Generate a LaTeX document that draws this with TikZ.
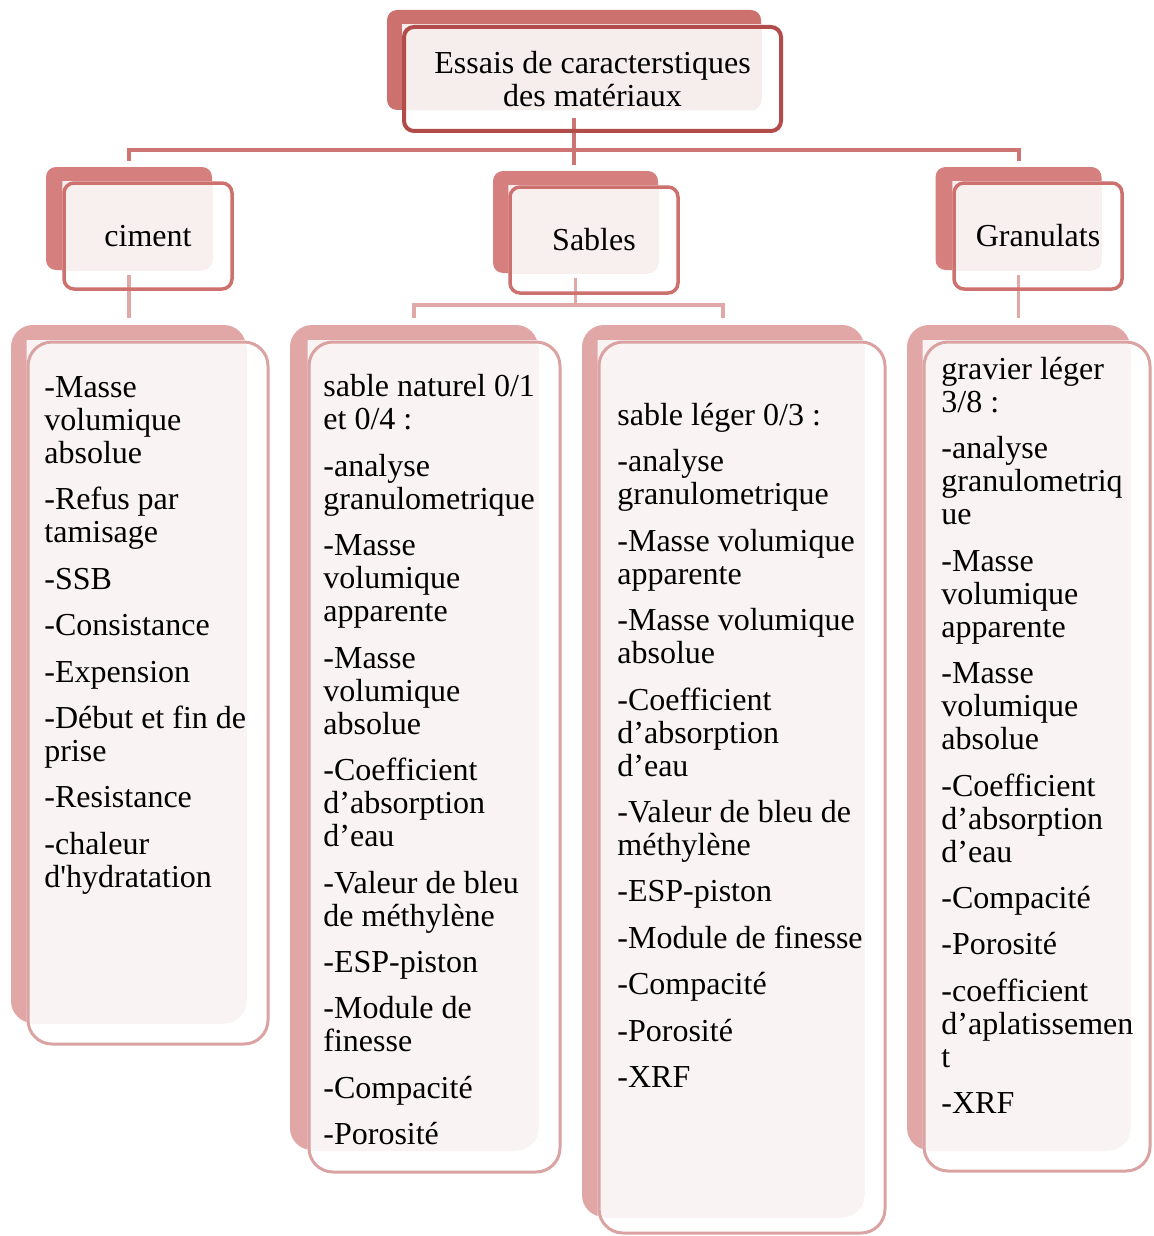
\documentclass[tikz,border=0pt]{standalone}
\usepackage{fontspec}
\setmainfont{Liberation Serif}
\usetikzlibrary{positioning}
\definecolor{topfill}{HTML}{CC716E}
\definecolor{topline}{HTML}{B24C4A}
\definecolor{toppale}{HTML}{F6EEED}
\definecolor{midfill}{HTML}{D5807E}
\definecolor{midline}{HTML}{CD716E}
\definecolor{midpale}{HTML}{F8EFEF}
\definecolor{lowfill}{HTML}{E0A7A6}
\definecolor{lowline}{HTML}{DBA2A2}
\definecolor{lowpale}{HTML}{FAF3F3}
\definecolor{topconn}{HTML}{CE7573}
\definecolor{lowconn}{HTML}{E0A9A8}
\pgfdeclarelayer{back}
\pgfsetlayers{back,main}

\begin{document}
\begin{tikzpicture}[
    x=0.5pt, y=-0.5pt,
    every node/.style={font=\fontsize{16}{16.5}\selectfont, inner sep=0pt},
    topbox/.style={draw=topline, line width=2pt, rounded corners=5pt, align=center, minimum width=188.5pt, minimum height=52pt},
    midbox/.style={draw=midline, line width=1.75pt, rounded corners=5pt, minimum width=84pt, minimum height=53pt},
    lowbox/.style={draw=lowline, line width=1.5pt, rounded corners=12pt},
    topshade/.style={fill=topfill, rounded corners=5pt, minimum width=187pt, minimum height=50pt},
    midshade/.style={fill=midfill, rounded corners=5pt, minimum width=83pt, minimum height=51.5pt},
    lowshade/.style={fill=lowfill, rounded corners=11pt},
    listtxt/.style={anchor=north west, align=left},
    bus/.style={draw=topconn, line width=2pt},
    sub/.style={draw=lowconn, line width=1.75pt}
]
\useasboundingbox (0,0) rectangle (1153,1236);

% boxes
\node[topbox] (top) at (592.5,79) {Essais de caracterstiques\\des matériaux};
\node[midbox] (ciment) at (148,236) {ciment};
\node[midbox] (sables) at (594,240) {Sables};
\node[midbox] (granulats) at (1038,236) {Granulats};
\node[lowbox, minimum width=120pt, minimum height=351pt] (cimlist) at (148,693) {};
\node[lowbox, minimum width=125.5pt, minimum height=415pt] (natlist) at (434.5,757) {};
\node[lowbox, minimum width=143pt, minimum height=445.5pt] (leglist) at (742,787.5) {};
\node[lowbox, minimum width=113pt, minimum height=414.5pt] (gravlist) at (1037,756.5) {};

% shaded backs
\begin{pgfonlayer}{back}
\node[topshade] (topback) at (574,60) {};
\node[midshade] (cimback) at (129,218.5) {};
\node[midshade, minimum width=82.5pt, minimum height=51pt] (sabback) at (575.5,222) {};
\node[midshade] (granback) at (1018.5,218.5) {};
\node[lowshade, minimum width=117.5pt, minimum height=349pt] (cimlistback) at (128.5,674) {};
\node[lowshade, minimum width=124pt, minimum height=412.5pt] (natback) at (414,737.5) {};
\node[lowshade, minimum width=141pt, minimum height=446pt] (legback) at (723,771) {};
\node[lowshade, minimum width=111.5pt, minimum height=412.5pt] (gravback) at (1018.5,737.5) {};
\foreach \o/\b/\c/\r in {top/topback/toppale/5pt, ciment/cimback/midpale/5pt,
    sables/sabback/midpale/5pt, granulats/granback/midpale/5pt,
    cimlist/cimlistback/lowpale/11pt, natlist/natback/lowpale/11pt,
    leglist/legback/lowpale/11pt, gravlist/gravback/lowpale/11pt}{
  \begin{scope}
    \clip (\o.north west) rectangle (\o.south east);
    \fill[\c, rounded corners=\r] (\b.north west) rectangle (\b.south east);
  \end{scope}
}

% connectors
\coordinate (bus1) at (574,150);
\coordinate (bus2) at (575.5,305);
\draw[bus, shorten <=4pt, shorten >=3pt] (topback.south) -- (topback.south |- sabback.north);
\draw[bus, shorten <=3pt, shorten >=3pt] (cimback.north) |- (bus1) -| (granback.north);
\draw[sub, shorten <=2.5pt, shorten >=3.5pt] (cimback.south) -- (cimback.south |- cimlistback.north);
\draw[sub, shorten <=2.5pt] (sabback.south) -- (bus2);
\draw[sub, shorten <=3.5pt, shorten >=3.5pt] (natback.north) |- (bus2) -| (legback.north);
\draw[sub, shorten <=2.5pt, shorten >=3.5pt] (granback.south) -- (granback.south |- gravback.north);
\end{pgfonlayer}

% lists
\node[listtxt] (cimtxt) at (44,374) {\strut -Masse\\volumique\\absolue\\[6.7pt]-Refus par\\tamisage\\[6.7pt]-SSB\\[6.7pt]-Consistance\\[6.7pt]-Expension\\[6.7pt]-Début et fin de\\prise\\[6.7pt]-Resistance\\[6.7pt]-chaleur\\d\textquotesingle hydratation};
\node[listtxt] (nattxt) at (323,373) {\strut sable naturel 0/1\\et 0/4 :\\[7pt]-analyse\\granulometrique\\[6.7pt]-Masse\\volumique\\apparente\\[6.7pt]-Masse\\volumique\\absolue\\[6.7pt]-Coefficient\\d'absorption\\d'eau\\[6.7pt]-Valeur de bleu\\de méthylène\\[6.7pt]-ESP-piston\\[6.7pt]-Module de\\finesse\\[6.7pt]-Compacité\\[6.7pt]-Porosité};
\node[listtxt] (legtxt) at (617,402) {\strut sable léger 0/3 :\\[6.7pt]-analyse\\granulometrique\\[6.7pt]-Masse volumique\\apparente\\[6.7pt]-Masse volumique\\absolue\\[6.7pt]-Coefficient\\d'absorption\\d'eau\\[6.7pt]-Valeur de bleu de\\méthylène\\[6.7pt]-ESP-piston\\[6.7pt]-Module de finesse\\[6.7pt]-Compacité\\[6.7pt]-Porosité\\[6.7pt]-XRF};
\node[listtxt] (gravtxt) at (941,356) {\strut gravier léger\\3/8 :\\[6.7pt]-analyse\\granulometriq\\ue\\[6.7pt]-Masse\\volumique\\apparente\\[6.7pt]-Masse\\volumique\\absolue\\[6.7pt]-Coefficient\\d'absorption\\d'eau\\[6.7pt]-Compacité\\[6.7pt]-Porosité\\[6.7pt]-coefficient\\d'aplatissemen\\t\\[6.7pt]-XRF};
\end{tikzpicture}
\end{document}
